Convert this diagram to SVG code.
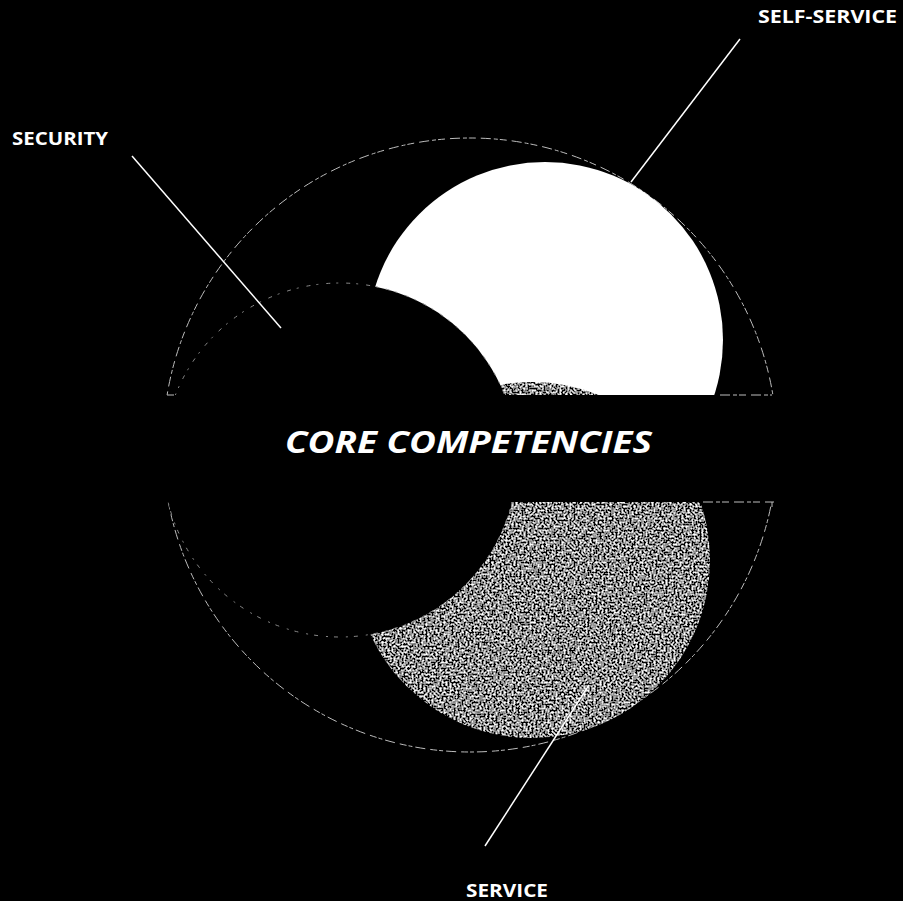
<svg xmlns="http://www.w3.org/2000/svg" width="903" height="901" viewBox="0 0 903 901">
<style>
.lbl{font-family:"Open Sans","Liberation Sans",sans-serif;font-weight:700;font-size:18px;fill:#fff}
.title{font-family:"Open Sans","Liberation Sans",sans-serif;font-weight:700;font-style:italic;font-size:31px;fill:#fff}
.dash{fill:none;stroke:#bdbdbd;stroke-width:1;stroke-dasharray:10 3 4 2 7 5}
.dashdim{fill:none;stroke:#8a8a8a;stroke-width:1;stroke-dasharray:4 6 2 8}
.leader{stroke:#fff;stroke-width:1.5;fill:none}
</style>
<defs>
<filter id="noise" x="0" y="0" width="100%" height="100%">
<feTurbulence type="fractalNoise" baseFrequency="0.5" numOctaves="2" seed="3" result="t"/>
<feColorMatrix in="t" type="matrix" values="3.2 0 0 0 -1.32  3.2 0 0 0 -1.32  3.2 0 0 0 -1.32  0 0 0 0 1" result="g"/>
<feComposite in="g" in2="SourceGraphic" operator="in"/>
</filter>
</defs>
<rect width="903" height="901" fill="#000"/>
<g id="outer">
<circle cx="470" cy="445" r="307" class="dash"/>
</g>
<g id="self-service">
<circle cx="545" cy="340" r="178" fill="#fff"/>
</g>
<g id="service">
<circle cx="532" cy="560" r="178" fill="#888" filter="url(#noise)"/>
</g>
<g id="security">
<circle cx="340" cy="460" r="177" fill="#000"/>
<circle cx="340" cy="460" r="177" class="dashdim"/>
</g>
<g id="band">
<rect x="150" y="395" width="640" height="107" fill="#000"/>
<path d="M167 395 H174 M720 395 H772 M703 502 H774 M772 502 V507" class="dash"/>
<text x="285" y="453" class="title" textLength="367" lengthAdjust="spacingAndGlyphs">CORE COMPETENCIES</text>
</g>
<g id="connectors">
<line x1="132" y1="156" x2="281" y2="328" class="leader"/>
<line x1="740" y1="39" x2="631" y2="182" class="leader"/>
<line x1="589" y1="685" x2="485" y2="846" class="leader"/>
</g>
<g id="labels">
<text x="12" y="145" class="lbl" textLength="96" lengthAdjust="spacingAndGlyphs">SECURITY</text>
<text x="758" y="23" class="lbl" textLength="139" lengthAdjust="spacingAndGlyphs">SELF-SERVICE</text>
<text x="466" y="897" class="lbl" textLength="82" lengthAdjust="spacingAndGlyphs">SERVICE</text>
</g>
</svg>
